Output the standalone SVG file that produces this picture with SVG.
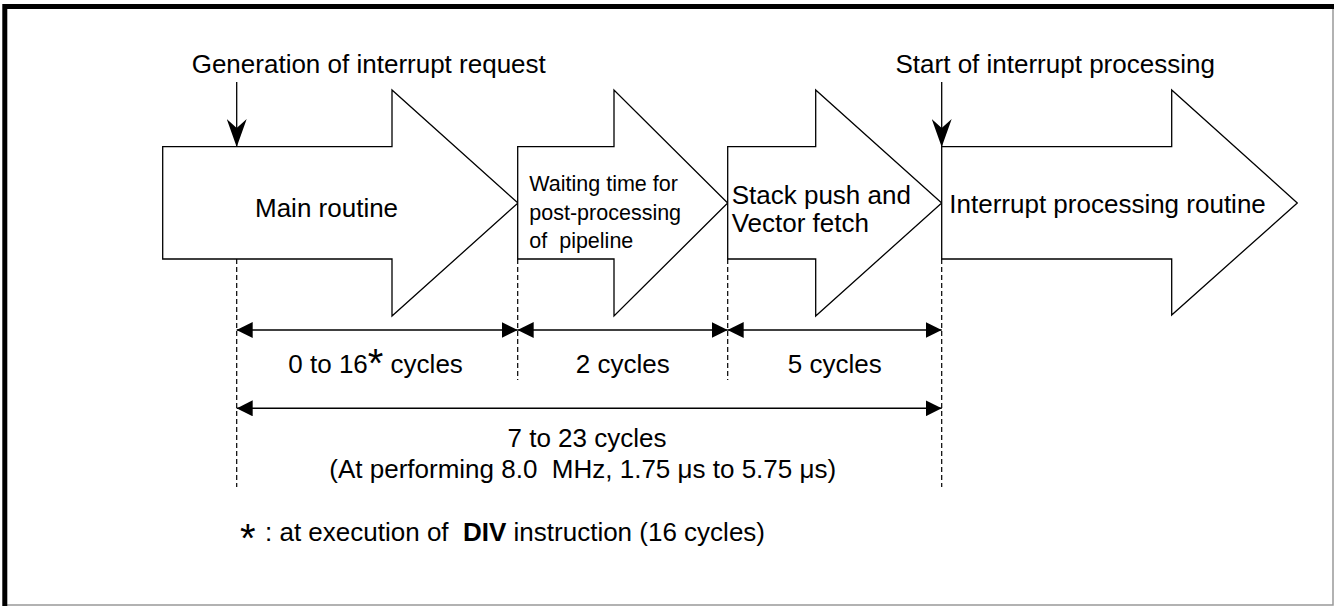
<svg xmlns="http://www.w3.org/2000/svg" width="1334" height="606" viewBox="0 0 1334 606">
<style>
text{font-family:"Liberation Sans",Arial,sans-serif;font-size:26px;fill:#000}
.small{font-size:21.5px}
.arrow{fill:#fff;stroke:#000;stroke-width:1.3;stroke-linejoin:miter}
.dash{stroke:#000;stroke-width:1.2;stroke-dasharray:5 3;fill:none}
.dim{stroke:#000;stroke-width:1.5;fill:none}
.mid{text-anchor:middle}
.ast{font-size:40px}
</style>
<defs>
<marker id="tri" viewBox="0 0 16 16" refX="16" refY="8" markerWidth="16" markerHeight="16" markerUnits="userSpaceOnUse" orient="auto-start-reverse">
<path d="M0,0 L16,8 L0,16 Z" fill="#000"/>
</marker>
<marker id="barb" viewBox="0 0 28 20" refX="27" refY="10" markerWidth="28" markerHeight="20" markerUnits="userSpaceOnUse" orient="auto">
<path d="M0,0 L28,10 L0,20 L9,10 Z" fill="#000"/>
</marker>
</defs>
<rect width="1334" height="606" fill="#fff"/>
<g id="frame">
<path d="M1333,9 V605 H7" fill="none" stroke="#999" stroke-width="1.5"/>
<path d="M4.8,606 V6.5 H1334" fill="none" stroke="#000" stroke-width="5"/>
</g>
<g id="node-main">
<polygon class="arrow" points="162.7,146.7 392,146.7 392,90 518,203 392,316 392,259 162.7,259"/>
<text x="255" y="216.7">Main routine</text>
</g>
<g id="node-wait">
<polygon class="arrow" points="517.7,146.7 614,146.7 614,90 727.7,203 614,316 614,259 517.7,259"/>
<text class="small" xml:space="preserve"><tspan x="529.3" y="191">Waiting time for</tspan><tspan x="529.3" y="220">post-processing</tspan><tspan x="529.3" y="248">of  pipeline</tspan></text>
</g>
<g id="node-stack">
<polygon class="arrow" points="727.7,146.7 815.7,146.7 815.7,90 941.7,203 815.7,316 815.7,259 727.7,259"/>
<text><tspan x="731.7" y="204">Stack push and</tspan><tspan x="731.7" y="232">Vector fetch</tspan></text>
</g>
<g id="node-irq">
<polygon class="arrow" points="941.7,146.7 1171.7,146.7 1171.7,90 1297.3,203 1171.7,315 1171.7,259 941.7,259"/>
<text x="949.3" y="213">Interrupt processing routine</text>
</g>
<g id="label-gen">
<text x="191.7" y="73">Generation of interrupt request</text>
</g>
<g id="label-start">
<text x="895.5" y="73">Start of interrupt processing</text>
</g>
<g id="connectors">
<line x1="236.7" y1="82" x2="236.7" y2="146" stroke="#000" stroke-width="1.3" marker-end="url(#barb)"/>
<line x1="941.7" y1="82" x2="941.7" y2="146" stroke="#000" stroke-width="1.3" marker-end="url(#barb)"/>
<line class="dash" x1="236.7" y1="259" x2="236.7" y2="487"/>
<line class="dash" x1="517.7" y1="259" x2="517.7" y2="380"/>
<line class="dash" x1="727.7" y1="259" x2="727.7" y2="380"/>
<line class="dash" x1="941.7" y1="259" x2="941.7" y2="487"/>
<line class="dim" x1="236.7" y1="330" x2="517.7" y2="330" marker-start="url(#tri)" marker-end="url(#tri)"/>
<line class="dim" x1="517.7" y1="330" x2="727.7" y2="330" marker-start="url(#tri)" marker-end="url(#tri)"/>
<line class="dim" x1="727.7" y1="330" x2="941.7" y2="330" marker-start="url(#tri)" marker-end="url(#tri)"/>
<line class="dim" x1="236.7" y1="408.3" x2="941.7" y2="408.3" marker-start="url(#tri)" marker-end="url(#tri)"/>
</g>
<g id="labels">
<text x="288.3" y="372.7" xml:space="preserve">0 to 16<tspan class="ast" dy="4">*</tspan><tspan dy="-4"> cycles</tspan></text>
<text class="mid" x="622.7" y="372.7">2 cycles</text>
<text class="mid" x="834.7" y="372.7">5 cycles</text>
<text class="mid" x="587" y="447">7 to 23 cycles</text>
<text x="329.3" y="477.5" xml:space="preserve">(At performing 8.0  MHz, 1.75 μs to 5.75 μs)</text>
<text y="541" xml:space="preserve"><tspan class="ast" x="240" dy="10.5">*</tspan><tspan x="265" dy="-10.5">: at execution of  <tspan font-weight="bold">DIV</tspan> instruction (16 cycles)</tspan></text>
</g>
</svg>
